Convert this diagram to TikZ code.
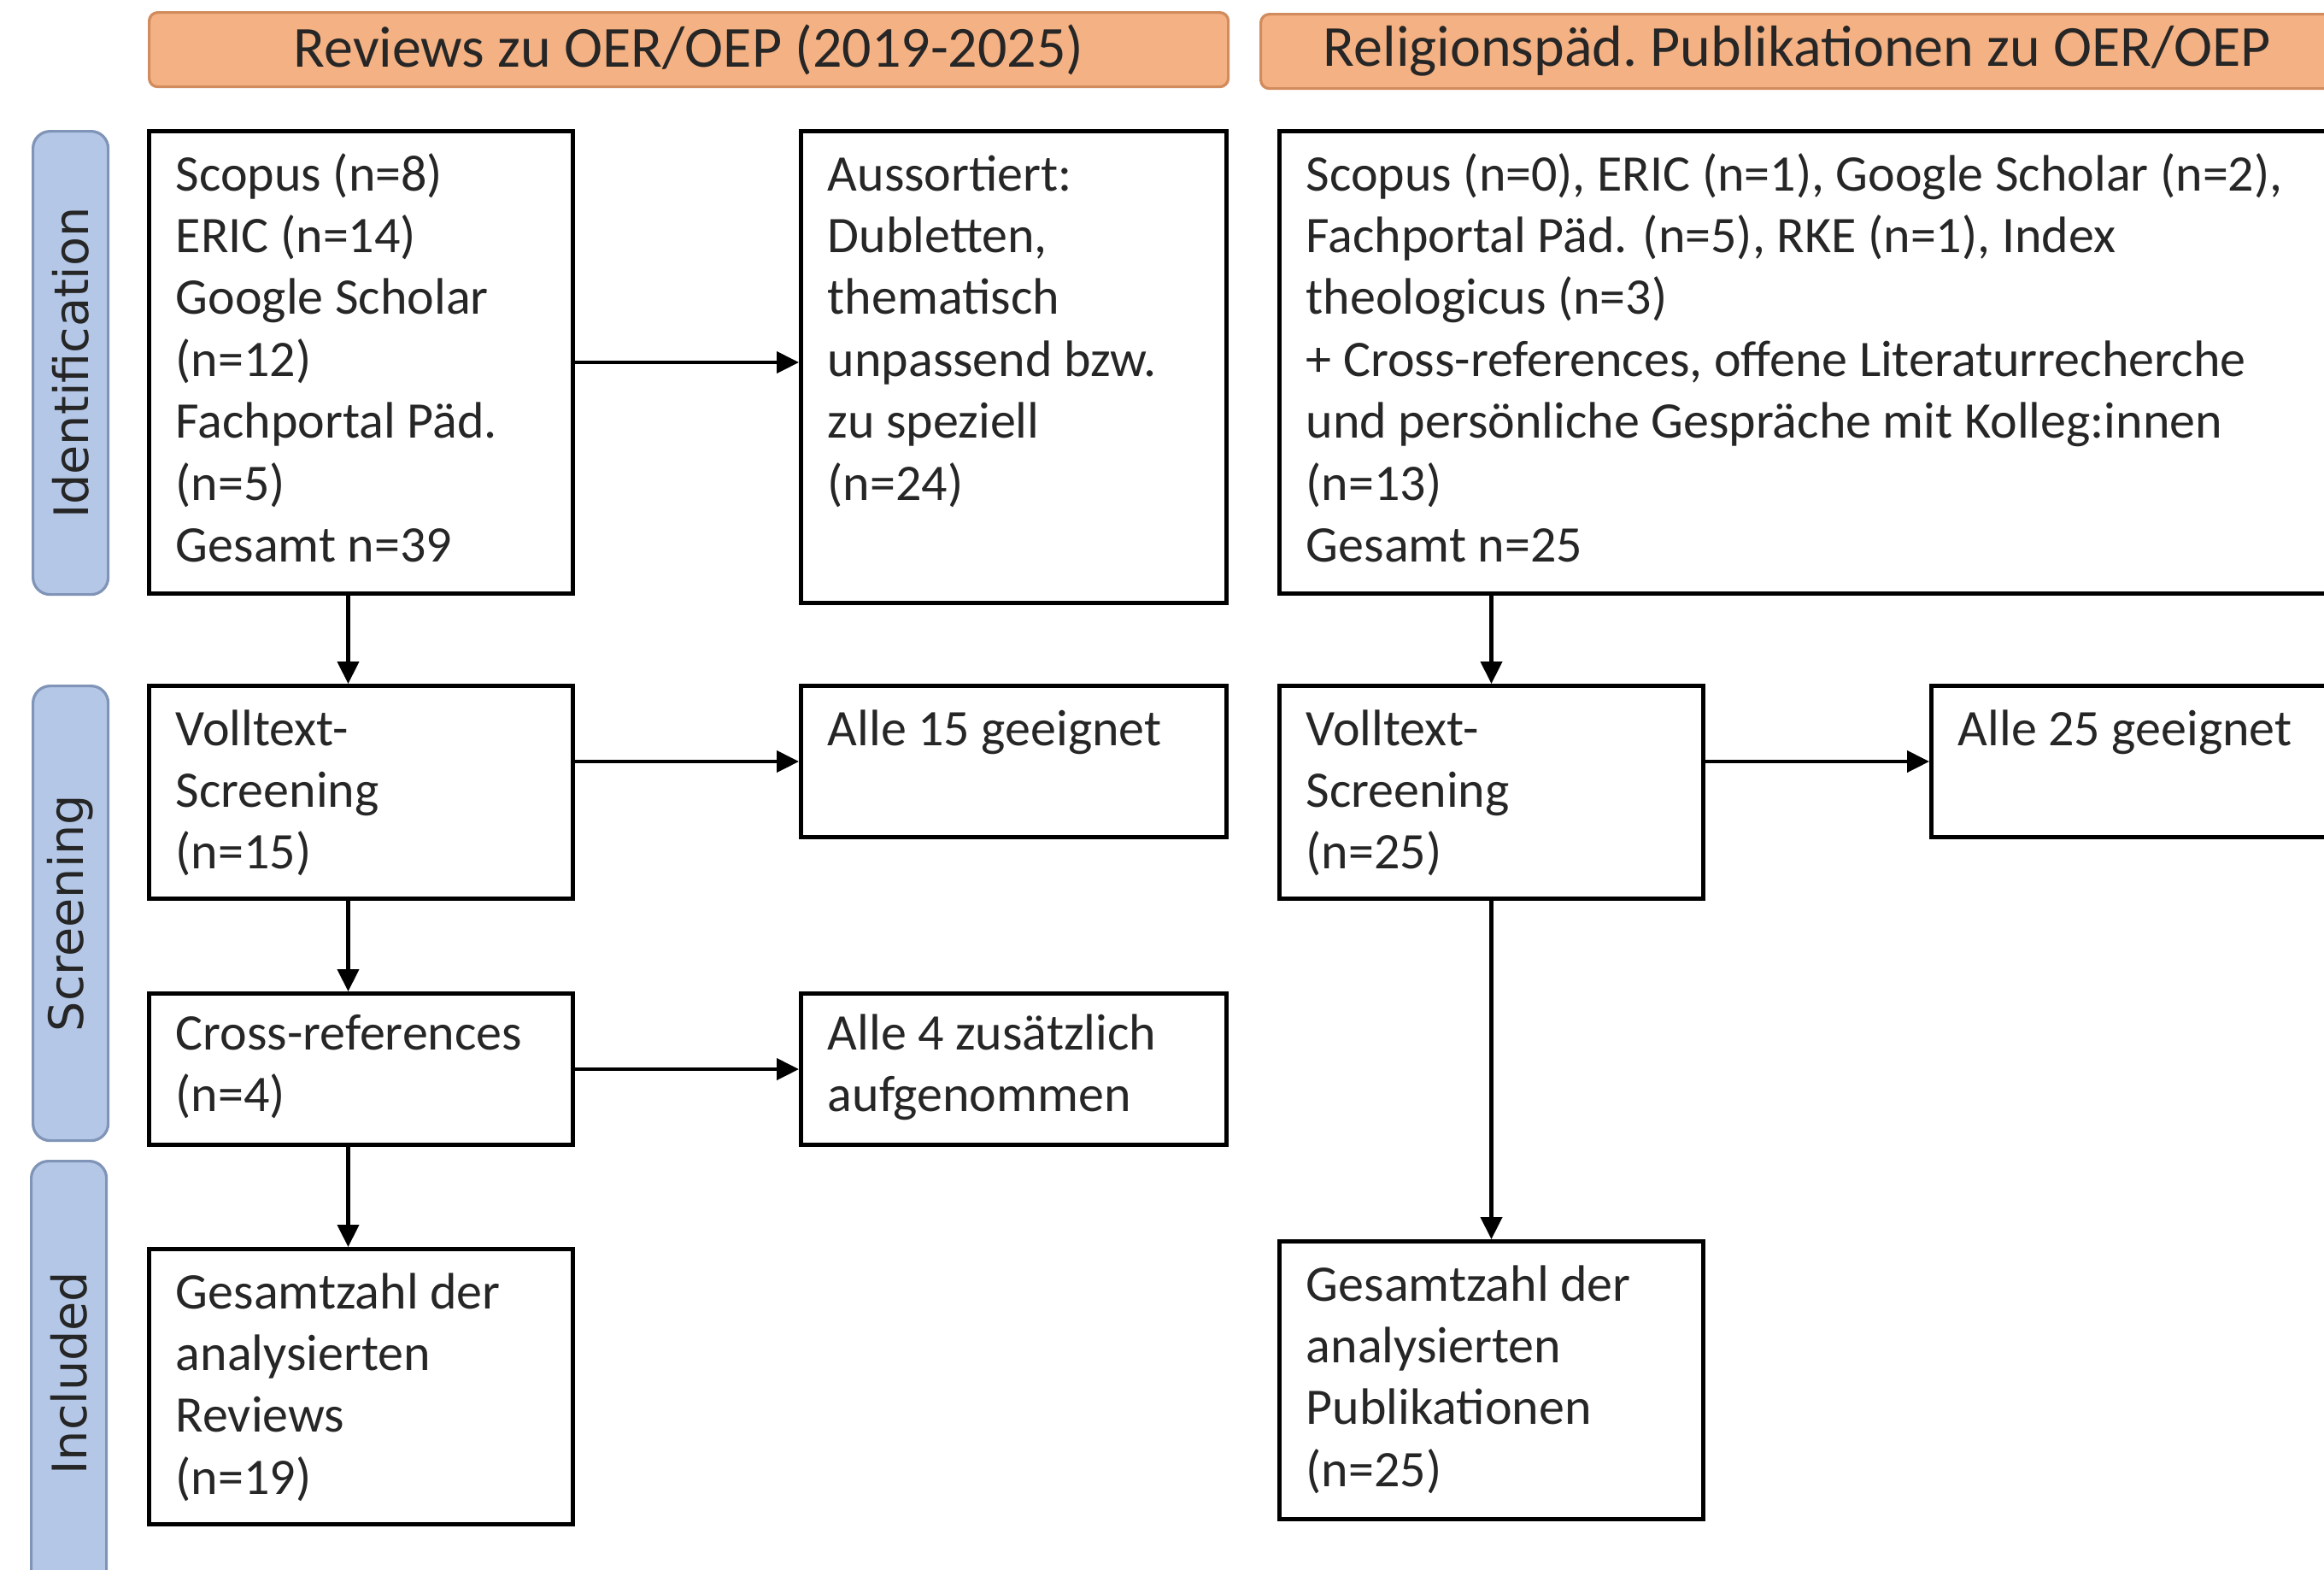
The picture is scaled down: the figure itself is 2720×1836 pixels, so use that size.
\documentclass[tikz,border=0pt]{standalone}
\usepackage{fontspec}
\setmainfont{Carlito}
\newfontfamily\sidefont{DejaVu Sans}
\usetikzlibrary{arrows.meta}
\definecolor{hdrfill}{HTML}{F4B183}
\definecolor{hdrline}{HTML}{D18B5C}
\definecolor{barfill}{HTML}{B4C7E7}
\definecolor{barline}{HTML}{8094B8}
\definecolor{textc}{HTML}{262626}
\begin{document}
\begin{tikzpicture}[x=0.25pt,y=-0.25pt,
  flowbox/.style={draw=black, line width=1.25pt, inner sep=0pt, anchor=north west},
  hdr/.style={draw=hdrline, fill=hdrfill, line width=0.8pt, rounded corners=2.5pt, inner sep=0pt, anchor=north west, minimum height=21.75pt, font=\fontsize{17}{20}\selectfont, text=textc},
  sidebar/.style={draw=barline, fill=barfill, line width=0.8pt, rounded corners=5pt, inner sep=0pt, anchor=north west, minimum width=22pt},
  sidelabel/.style={rotate=90, inner sep=0pt, font=\sidefont\fontsize{13.9}{16}\selectfont, text=textc},
  txt/.style={anchor=north west, inner sep=0pt, align=left, font=\fontsize{15}{18.1}\selectfont, text=textc},
  arr/.style={-{Triangle[length=6.5pt,width=6.25pt]}, line width=1.05pt}]
\useasboundingbox (0,0) rectangle (2720,1836);
\clip (0,0) rectangle (2720,1836);
\fill[white] (0,0) rectangle (2720,1836);

% headers
\node[hdr, minimum width=315.75pt] (hA) at (173,13) {Reviews zu OER/OEP (2019-2025)};
\node[hdr, minimum width=314pt] (hB) at (1474,15) {Religionspäd.\ Publikationen zu OER/OEP};

% side bars
\node[sidebar, minimum height=135.5pt] (barI) at (37,152) {};
\node[sidebar, minimum height=133pt] (barS) at (37,801) {};
\node[sidebar, minimum height=140pt] (barN) at (35,1357) {};
\node[sidelabel] (lI) at (barI.center) {Identification};
\node[sidelabel] (lS) at (barS.center) {Screening};
\node[sidelabel] (lN) at ([yshift=8pt]barN.center) {Included};

% boxes left column
\node[flowbox, minimum width=124pt, minimum height=135.25pt] (A) at (172,151) {};
\node[flowbox, minimum width=124.5pt, minimum height=138pt] (B) at (935,151) {};
\node[flowbox, minimum width=124pt, minimum height=62.25pt] (C) at (172,800) {};
\node[flowbox, minimum width=124.5pt, minimum height=44.25pt] (D) at (935,800) {};
\node[flowbox, minimum width=124pt, minimum height=44.25pt] (E) at (172,1160) {};
\node[flowbox, minimum width=124.5pt, minimum height=44.25pt] (F) at (935,1160) {};
\node[flowbox, minimum width=124pt, minimum height=80.5pt] (G) at (172,1459) {};
% boxes right column
\node[flowbox, minimum width=311.25pt, minimum height=135.25pt] (H) at (1495,151) {};
\node[flowbox, minimum width=124pt, minimum height=62.25pt] (I) at (1495,800) {};
\node[flowbox, minimum width=120.5pt, minimum height=44.25pt] (J) at (2258,800) {};
\node[flowbox, minimum width=124pt, minimum height=81.25pt] (K) at (1495,1450) {};

% texts
\node[txt] (At) at ([shift={(33,20.6)}]A.north west) {\strut Scopus (n=8)\\ERIC (n=14)\\Google Scholar\\(n=12)\\Fachportal Päd.\\(n=5)\\Gesamt n=39};
\node[txt] (Bt) at ([shift={(33,20.6)}]B.north west) {\strut Aussortiert:\\Dubletten,\\thematisch\\unpassend bzw.\\zu speziell\\(n=24)};
\node[txt] (Ct) at ([shift={(33,20.6)}]C.north west) {\strut Volltext-\\Screening\\(n=15)};
\node[txt] (Dt) at ([shift={(33,20.6)}]D.north west) {\strut Alle 15 geeignet};
\node[txt] (Et) at ([shift={(33,17)}]E.north west) {\strut Cross-references\\(n=4)};
\node[txt] (Ft) at ([shift={(33,17)}]F.north west) {\strut Alle 4 zusätzlich\\aufgenommen};
\node[txt] (Gt) at ([shift={(33,20.6)}]G.north west) {\strut Gesamtzahl der\\analysierten\\Reviews\\(n=19)};
\node[txt] (Ht) at ([shift={(33,20.6)}]H.north west) {\strut Scopus (n=0), ERIC (n=1), Google Scholar (n=2),\\Fachportal Päd. (n=5), RKE (n=1), Index\\theologicus (n=3)\\+ Cross-references, offene Literaturrecherche\\und persönliche Gespräche mit Kolleg:innen\\(n=13)\\Gesamt n=25};
\node[txt] (It) at ([shift={(33,20.6)}]I.north west) {\strut Volltext-\\Screening\\(n=25)};
\node[txt] (Jt) at ([shift={(33,20.6)}]J.north west) {\strut Alle 25 geeignet};
\node[txt] (Kt) at ([shift={(33,20.6)}]K.north west) {\strut Gesamtzahl der\\analysierten\\Publikationen\\(n=25)};

% connectors
\draw[arr] (A.east) -- (A.east -| B.west);
\draw[arr] (C.east |- D.west) -- (D.west);
\draw[arr] (E.east) -- (E.east -| F.west);
\draw[arr] ([xshift=-3.75pt]A.south) -- ([xshift=-3.75pt]C.north);
\draw[arr] ([xshift=-3.75pt]C.south) -- ([xshift=-3.75pt]E.north);
\draw[arr] ([xshift=-3.75pt]E.south) -- ([xshift=-3.75pt]G.north);
\draw[arr] (H.south -| I.north) -- (I.north);
\draw[arr] (I.east |- J.west) -- (J.west);
\draw[arr] (I.south) -- (K.north);
\end{tikzpicture}
\end{document}
